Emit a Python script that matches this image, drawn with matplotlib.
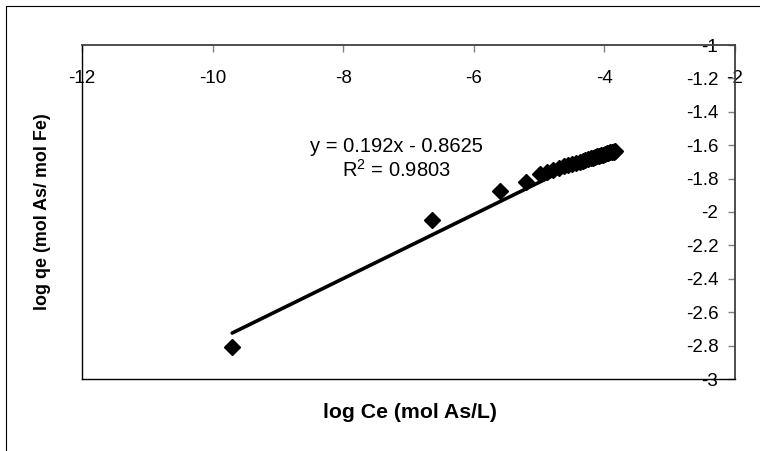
import matplotlib
matplotlib.use("Agg")
import matplotlib.pyplot as plt
from matplotlib.lines import Line2D

plt.rcParams['font.family'] = ['Liberation Sans', 'DejaVu Sans']

# data
log_ce = [-9.70, -6.64, -5.60, -5.20,
          -4.98, -4.88, -4.78, -4.70, -4.62, -4.55, -4.49, -4.43, -4.38, -4.33,
          -4.29, -4.25, -4.21, -4.17, -4.14, -4.11, -4.08, -4.05, -4.02, -3.99,
          -3.96, -3.94, -3.91, -3.89, -3.86, -3.84]
log_qe = [-2.808, -2.048, -1.872, -1.818,
          -1.770, -1.758, -1.746, -1.737, -1.727, -1.719, -1.712, -1.705, -1.699, -1.693,
          -1.688, -1.684, -1.679, -1.674, -1.671, -1.667, -1.664, -1.660, -1.656, -1.653,
          -1.649, -1.647, -1.643, -1.641, -1.638, -1.635]
slope = 0.192
intercept = -0.8625
r2 = 0.9803
x_ticks = [-12, -10, -8, -6, -4, -2]
y_ticks = [-1, -1.2, -1.4, -1.6, -1.8, -2, -2.2, -2.4, -2.6, -2.8, -3]

fig = plt.figure(figsize=(7.6, 4.51), dpi=100)
ax = fig.add_axes([82/760, (451-379)/451, 653/760, 334/451])

ax.plot(log_ce, log_qe, 'D', color='black', ms=8, zorder=3)
fx = [min(log_ce), max(log_ce)]
fy = [slope*v + intercept for v in fx]
ax.plot(fx, fy, color='black', lw=2.6, solid_capstyle='round', zorder=2)

ax.set_xlim(-12, -2)
ax.set_ylim(-3, -1)

# x axis sits on top (crosses at y=-1), labels hang below the line
ax.xaxis.set_ticks_position('top')
ax.set_xticks(x_ticks)
ax.set_xticklabels([str(t) for t in x_ticks])
ax.tick_params(axis='x', direction='in', length=5, width=1, color='#808080',
               pad=-30, labelsize=13.5)

# y axis on the right (crosses at x=-2), labels to the left of it
ax.yaxis.set_ticks_position('right')
ax.set_yticks(y_ticks)
ax.set_yticklabels([('%g' % t) for t in y_ticks])
ax.tick_params(axis='y', direction='in', length=5, width=1, color='#808080',
               pad=-12, labelsize=13.5)
for lbl in ax.get_yticklabels():
    lbl.set_ha('right')

for s in ['top', 'right']:
    ax.spines[s].set_color('#404040')
    ax.spines[s].set_linewidth(1.3)
for s in ['left', 'bottom']:
    ax.spines[s].set_color('black')
    ax.spines[s].set_linewidth(1.0)

ax.text(-7.18, -1.605, 'y = 0.192x - 0.8625', ha='center', va='center', fontsize=14.5)
ax.text(-7.18, -1.749, '$\\mathregular{R^2}$ = %.4f' % r2, ha='center', va='center', fontsize=14.5)

fig.text(410/760, 1 - 412/451, 'log Ce (mol As/L)', ha='center', va='center',
         fontsize=15.3, fontweight='bold')
fig.text(43/760, 1 - 212/451, 'log qe (mol As/ mol Fe)', ha='center', va='center',
         fontsize=12.9, fontweight='bold', rotation=90)

# chart area border (cropped on right/bottom)
fig.add_artist(Line2D([5.5/760, 5.5/760], [0, 1 - 5.5/451], color='black', lw=0.8))
fig.add_artist(Line2D([5.5/760, 1], [1 - 5.5/451, 1 - 5.5/451], color='black', lw=0.8))

fig.savefig('out.png', dpi=100)
